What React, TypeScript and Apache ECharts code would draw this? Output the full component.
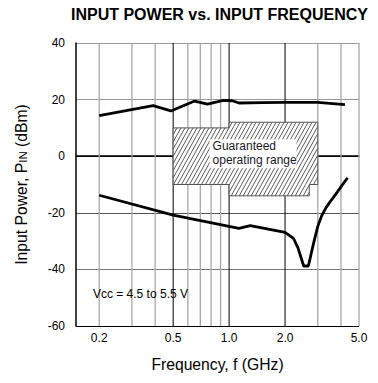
import React, { useEffect, useRef } from 'react';
import * as echarts from 'echarts';

// Curve data (frequency GHz, input power dBm)
const upperFreq = [0.2, 0.39, 0.486, 0.652, 0.765, 0.93, 1.04, 1.13, 1.5, 2.0, 3.0, 4.2];
const upperPin = [14.3, 17.9, 16.0, 19.5, 18.4, 19.7, 19.6, 18.8, 18.9, 19.0, 19.0, 18.2];
const lowerFreq = [0.2, 0.5, 1.13, 1.3, 2.0, 2.22, 2.35, 2.52, 2.67, 2.83, 3.0, 3.15, 3.33, 3.55, 3.76, 4.05, 4.34];
const lowerPin = [-13.8, -20.8, -25.5, -24.5, -26.9, -29.0, -32.5, -38.8, -38.8, -31.5, -24.8, -21.0, -18.1, -15.5, -13.3, -10.3, -7.6];

// Axis / tick data
const xLabelValues = [0.2, 0.5, 1.0, 2.0, 5.0];
const xLabelTexts = ['0.2', '0.5', '1.0', '2.0', '5.0'];
const xGridMinor = [0.2, 0.3, 0.4, 0.6, 0.7, 0.8, 0.9, 3, 4, 5];
const xGridMajor = [0.5, 1, 2];
const xMin = 0.15;
const xMax = 5;
const yMin = -60;
const yMax = 40;
const yInterval = 20;

// Guaranteed operating range (freq1, freq2, pinLow, pinHigh)
const rangeRects = [
  [0.5, 1.0, -10, 10],
  [1.0, 3.0, -10, 12],
  [1.0, 2.7, -14, -10],
];
const rangeOutline = [
  [0.5, 10], [1.0, 10], [1.0, 12], [3.0, 12], [3.0, -10], [2.7, -10],
  [2.7, -14], [1.0, -14], [1.0, -10], [0.5, -10],
];
const rangeLabelAnchor = [0.8, 6];
const vccLabelAnchor = [0.185, -48.7];

const FONT = 'Liberation Sans, Arial, sans-serif';

export default function App() {
  const ref = useRef<HTMLDivElement>(null);
  useEffect(() => {
    if (!ref.current) return;
    document.body.style.margin = '0';
    const chart = echarts.init(ref.current, undefined, { renderer: 'svg' });

    const gridRender = (params: any, api: any) => {
      const top = api.coord([1, yMax])[1];
      const bottom = api.coord([1, yMin])[1];
      const children: any[] = [];
      xGridMinor.forEach((v) => {
        const x = api.coord([v, 0])[0];
        children.push({ type: 'line', shape: { x1: x, y1: top, x2: x, y2: bottom }, style: { stroke: '#a8a8a8', lineWidth: 1.3 } });
      });
      xGridMajor.forEach((v) => {
        const x = api.coord([v, 0])[0];
        children.push({ type: 'line', shape: { x1: x, y1: top, x2: x, y2: bottom }, style: { stroke: '#000', lineWidth: 1 } });
      });
      xLabelValues.forEach((v, i) => {
        const x = api.coord([v, 0])[0];
        children.push({
          type: 'text', x, y: bottom + 11.5,
          style: { text: xLabelTexts[i], fontSize: 12, fontFamily: FONT, fill: '#000', align: 'center', verticalAlign: 'middle' },
        });
      });
      const va = api.coord(vccLabelAnchor);
      children.push({
        type: 'text', x: va[0], y: va[1],
        style: { text: 'Vcc = 4.5 to 5.5 V', fontSize: 12, fontFamily: FONT, fill: '#000', align: 'left', verticalAlign: 'middle' },
      });
      return { type: 'group', children };
    };

    const rangeRender = (params: any, api: any) => {
      const children: any[] = [];
      const pts = rangeOutline.map((p) => api.coord(p));
      children.push({ type: 'polygon', shape: { points: pts }, style: { fill: '#fff', stroke: 'none' } });
      const k = 1.8;
      const s = 4;
      rangeRects.forEach((r) => {
        const a = api.coord([r[0], r[3]]);
        const b = api.coord([r[1], r[2]]);
        const x1 = a[0], y1 = a[1], x2 = b[0], y2 = b[1];
        const cMin = y1 + k * x1;
        const cMax = y2 + k * x2;
        const step = k * s;
        for (let n = Math.ceil(cMin / step); n * step <= cMax; n++) {
          const c = n * step;
          const xa = Math.max(x1, (c - y2) / k);
          const xb = Math.min(x2, (c - y1) / k);
          if (xb - xa > 0.05) {
            children.push({
              type: 'line',
              shape: { x1: xa, y1: c - k * xa, x2: xb, y2: c - k * xb },
              style: { stroke: '#333', lineWidth: 0.8 },
            });
          }
        }
      });
      children.push({ type: 'polygon', shape: { points: pts }, style: { fill: 'none', stroke: '#555', lineWidth: 1 } });
      const la = api.coord(rangeLabelAnchor);
      children.push({ type: 'rect', shape: { x: la[0] - 1.5, y: la[1], width: 87, height: 29 }, style: { fill: '#fff' } });
      children.push({
        type: 'text', x: la[0] + 1.5, y: la[1],
        style: { text: 'Guaranteed\noperating range', fontSize: 12, lineHeight: 14, fontFamily: FONT, fill: '#1a1a2a', align: 'left', verticalAlign: 'top' },
      });
      return { type: 'group', children };
    };

    chart.setOption({
      animation: false,
      title: {
        text: 'INPUT POWER vs. INPUT FREQUENCY',
        left: 71,
        top: 6,
        padding: 0,
        textStyle: { fontSize: 16, fontWeight: 'bold', fontFamily: FONT, color: '#000' },
      },
      grid: { left: 76, right: 19, top: 43, bottom: 57, containLabel: false },
      xAxis: {
        type: 'log',
        logBase: 10,
        min: xMin,
        max: xMax,
        name: 'Frequency, f (GHz)',
        nameLocation: 'middle',
        nameGap: 30,
        nameTextStyle: { fontSize: 15.7, fontFamily: FONT, color: '#000' },
        axisLabel: { show: false },
        axisTick: { show: false },
        minorTick: { show: false },
        splitLine: { show: false },
        axisLine: { show: true, lineStyle: { color: '#000', width: 1.5 } },
      },
      yAxis: {
        type: 'value',
        min: yMin,
        max: yMax,
        interval: yInterval,
        name: '{a|Input Power, P}{b|IN}{a| (dBm)}',
        nameLocation: 'middle',
        nameGap: 47,
        nameTextStyle: {
          rich: {
            a: { fontSize: 15.7, fontFamily: FONT, color: '#000', verticalAlign: 'bottom' },
            b: { fontSize: 11.5, fontFamily: FONT, color: '#000', verticalAlign: 'bottom' },
          },
        },
        axisLabel: { fontSize: 12, fontFamily: FONT, color: '#000', margin: 11 },
        axisTick: { show: false },
        axisLine: { show: true, lineStyle: { color: '#000', width: 1.5 } },
        splitLine: { show: true, lineStyle: { color: ['#000', '#777', '#555', '#111', '#999', '#999'], width: 1 } },
      },
      series: [
        { type: 'custom', z: 1, silent: true, renderItem: gridRender, data: [[1, 0]] },
        { type: 'custom', z: 2, silent: true, renderItem: rangeRender, data: [[1, 0]] },
        {
          type: 'line', z: 5, symbol: 'none', silent: true,
          data: upperFreq.map((f, i) => [f, upperPin[i]]),
          lineStyle: { color: '#000', width: 2.8 },
        },
        {
          type: 'line', z: 5, symbol: 'none', silent: true,
          data: lowerFreq.map((f, i) => [f, lowerPin[i]]),
          lineStyle: { color: '#000', width: 2.8 },
        },
      ],
    });
    return () => chart.dispose();
  }, []);
  return <div ref={ref} style={{ width: 378, height: 383 }} />;
}
